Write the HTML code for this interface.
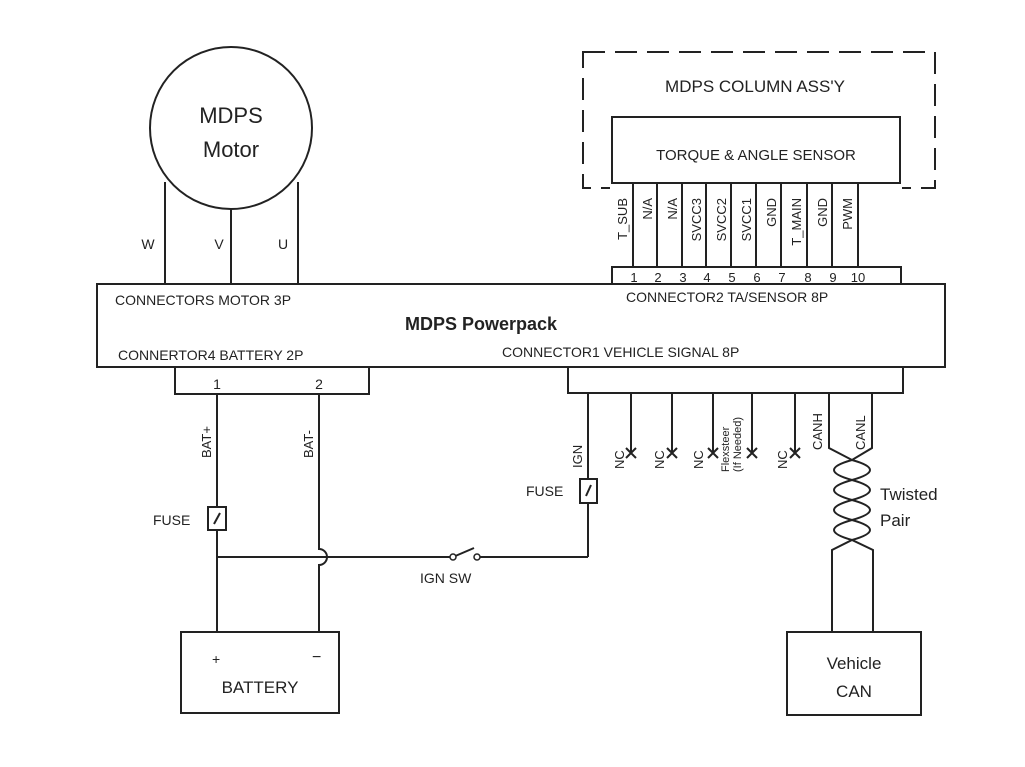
<!DOCTYPE html>
<html><head><meta charset="utf-8"><style>
html,body{margin:0;padding:0;background:#fff}
svg{display:block}
text{font-family:"Liberation Sans",sans-serif;fill:#222}
</style></head><body>
<svg width="1025" height="767" viewBox="0 0 1025 767" xmlns="http://www.w3.org/2000/svg">
<g stroke="#222" stroke-width="2" fill="none">
<circle cx="231" cy="128" r="81"/>
<line x1="165" y1="182" x2="165" y2="284"/>
<line x1="231" y1="209" x2="231" y2="284"/>
<line x1="298" y1="182" x2="298" y2="284"/>
<rect x="583" y="52" width="352" height="136" stroke-dasharray="22,10"/>
<rect x="610" y="115" width="292" height="76" fill="#fff" stroke="none"/>
<rect x="612" y="117" width="288" height="66" fill="#fff"/>
<g>
<line x1="633" y1="183" x2="633" y2="267"/><line x1="657" y1="183" x2="657" y2="267"/>
<line x1="682" y1="183" x2="682" y2="267"/><line x1="706" y1="183" x2="706" y2="267"/>
<line x1="731" y1="183" x2="731" y2="267"/><line x1="756" y1="183" x2="756" y2="267"/>
<line x1="781" y1="183" x2="781" y2="267"/><line x1="807" y1="183" x2="807" y2="267"/>
<line x1="832" y1="183" x2="832" y2="267"/><line x1="858" y1="183" x2="858" y2="267"/>
</g>
<rect x="612" y="267" width="289" height="17"/>
<rect x="97" y="284" width="848" height="83"/>
<rect x="175" y="367" width="194" height="27"/>
<rect x="568" y="367" width="335" height="26"/>
<line x1="217" y1="394" x2="217" y2="632"/>
<path d="M319 394 V549 A8 8 0 0 1 319 565 V632"/>
<line x1="217" y1="557" x2="453" y2="557"/>
<line x1="453" y1="557" x2="474" y2="548"/>
<line x1="478" y1="557" x2="588" y2="557"/>
<line x1="588" y1="393" x2="588" y2="557"/>
<rect x="208" y="507" width="18" height="23" fill="#fff"/>
<line x1="214" y1="524" x2="220" y2="513"/>
<rect x="580" y="479" width="17" height="24" fill="#fff"/>
<line x1="586" y1="496" x2="591" y2="485"/>
<line x1="631" y1="393" x2="631" y2="453"/>
<line x1="672" y1="393" x2="672" y2="453"/>
<line x1="713" y1="393" x2="713" y2="453"/>
<line x1="752" y1="393" x2="752" y2="453"/>
<line x1="795" y1="393" x2="795" y2="453"/>
<path d="M829 393 V448 L852 460 Q888 470 852 480 Q816 490 852 500 Q888 510 852 520 Q816 530 852 540 L873 550 V632"/>
<path d="M872 393 V448 L852 460 Q816 470 852 480 Q888 490 852 500 Q816 510 852 520 Q888 530 852 540 L832 550 V632"/>
<rect x="181" y="632" width="158" height="81"/>
<rect x="787" y="632" width="134" height="83"/>
</g>
<g fill="#fff" stroke="#222" stroke-width="1.5">
<circle cx="453" cy="557" r="3"/><circle cx="477" cy="557" r="3"/>
</g>
<g stroke="#222" stroke-width="2">
<path d="M626 448l10 10M636 448l-10 10"/><path d="M667 448l10 10M677 448l-10 10"/>
<path d="M708 448l10 10M718 448l-10 10"/><path d="M747 448l10 10M757 448l-10 10"/>
<path d="M790 448l10 10M800 448l-10 10"/>
</g>
<text x="231" y="123" font-size="22" text-anchor="middle">MDPS</text>
<text x="231" y="157" font-size="22" text-anchor="middle">Motor</text>
<text x="148" y="249" font-size="14" text-anchor="middle">W</text>
<text x="219" y="249" font-size="14" text-anchor="middle">V</text>
<text x="283" y="249" font-size="14" text-anchor="middle">U</text>
<text x="755" y="92" font-size="17" text-anchor="middle">MDPS COLUMN ASS'Y</text>
<text x="756" y="160" font-size="15" text-anchor="middle">TORQUE &amp; ANGLE SENSOR</text>
<g font-size="13" text-anchor="end">
<text transform="translate(627,198) rotate(-90)">T_SUB</text>
<text transform="translate(652,198) rotate(-90)">N/A</text>
<text transform="translate(677,198) rotate(-90)">N/A</text>
<text transform="translate(701,198) rotate(-90)">SVCC3</text>
<text transform="translate(726,198) rotate(-90)">SVCC2</text>
<text transform="translate(751,198) rotate(-90)">SVCC1</text>
<text transform="translate(776,198) rotate(-90)">GND</text>
<text transform="translate(801,198) rotate(-90)">T_MAIN</text>
<text transform="translate(827,198) rotate(-90)">GND</text>
<text transform="translate(852,198) rotate(-90)">PWM</text>
</g>
<g font-size="13" text-anchor="middle">
<text x="634" y="282">1</text><text x="658" y="282">2</text><text x="683" y="282">3</text>
<text x="707" y="282">4</text><text x="732" y="282">5</text><text x="757" y="282">6</text>
<text x="782" y="282">7</text><text x="808" y="282">8</text><text x="833" y="282">9</text><text x="858" y="282">10</text>
</g>
<text x="115" y="305" font-size="14">CONNECTORS MOTOR 3P</text>
<text x="626" y="302" font-size="14">CONNECTOR2 TA/SENSOR 8P</text>
<text x="405" y="330" font-size="18" font-weight="bold">MDPS Powerpack</text>
<text x="118" y="360" font-size="14">CONNERTOR4 BATTERY 2P</text>
<text x="502" y="357" font-size="14">CONNECTOR1 VEHICLE SIGNAL 8P</text>
<text x="217" y="389" font-size="14" text-anchor="middle">1</text>
<text x="319" y="389" font-size="14" text-anchor="middle">2</text>
<text transform="translate(211,458) rotate(-90)" font-size="13">BAT+</text>
<text transform="translate(313,458) rotate(-90)" font-size="13">BAT-</text>
<text transform="translate(582,468) rotate(-90)" font-size="13">IGN</text>
<text x="153" y="525" font-size="14">FUSE</text>
<text x="526" y="496" font-size="14">FUSE</text>
<text x="420" y="583" font-size="14">IGN SW</text>
<g font-size="13">
<text transform="translate(624,469) rotate(-90)">NC</text>
<text transform="translate(664,469) rotate(-90)">NC</text>
<text transform="translate(703,469) rotate(-90)">NC</text>
<text transform="translate(787,469) rotate(-90)">NC</text>
<text transform="translate(822,450) rotate(-90)">CANH</text>
<text transform="translate(865,450) rotate(-90)">CANL</text>
</g>
<text transform="translate(729,472) rotate(-90)" font-size="11">Flexsteer</text>
<text transform="translate(741,472) rotate(-90)" font-size="11">(If Needed)</text>
<text x="880" y="500" font-size="17">Twisted</text>
<text x="880" y="526" font-size="17">Pair</text>
<text x="212" y="664" font-size="14">+</text>
<text x="312" y="662" font-size="16">−</text>
<text x="260" y="693" font-size="17" text-anchor="middle">BATTERY</text>
<text x="854" y="669" font-size="17" text-anchor="middle">Vehicle</text>
<text x="854" y="697" font-size="17" text-anchor="middle">CAN</text>
</svg>
</body></html>
